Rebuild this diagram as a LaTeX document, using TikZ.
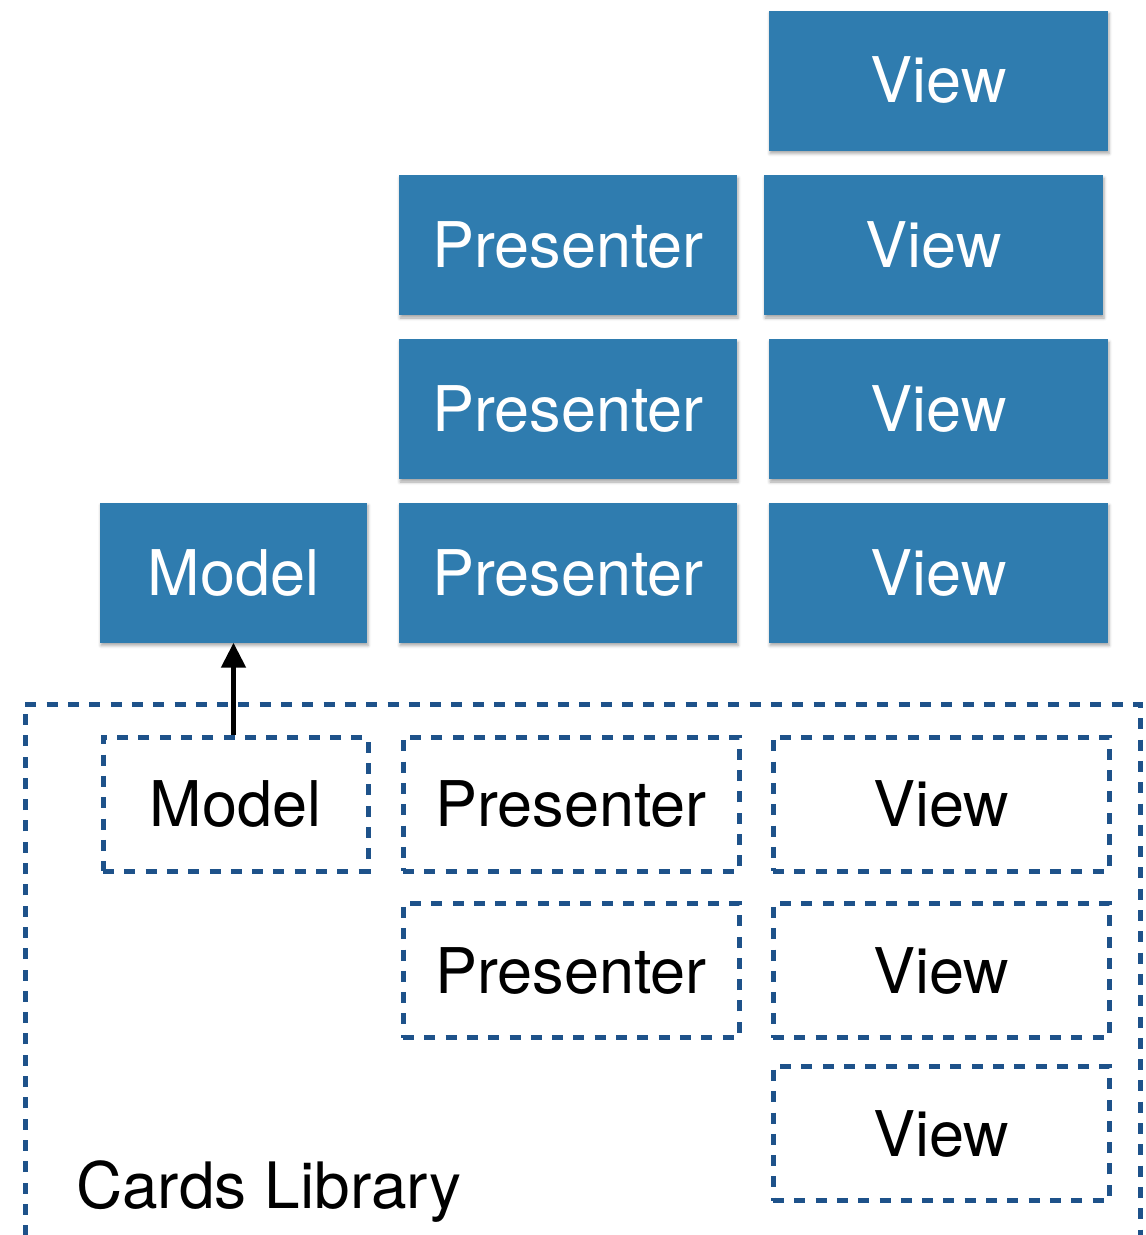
\documentclass[tikz,border=0pt]{standalone}
\usepackage{fontspec}
\setmainfont{TeX Gyre Heros}
\usetikzlibrary{shadows.blur,arrows.meta}
\definecolor{boxblue}{RGB}{47,124,175}
\definecolor{dashblue}{RGB}{30,82,138}
\tikzset{
  solidbox/.style={rectangle, fill=boxblue, text=white, inner sep=0pt,
    minimum width=#1, minimum height=140pt, font=\fontsize{63}{63}\selectfont,
    blur shadow={shadow xshift=1pt, shadow yshift=-3pt, shadow blur radius=3pt, shadow opacity=35}},
  dashline/.style={draw=dashblue, line width=5pt, dash pattern=on 11pt off 10.3pt},
  dashbox/.style={rectangle, dashline, text=black, inner sep=0pt, minimum width=#1,
    minimum height=134pt, font=\fontsize{63}{63}\selectfont},
}
\begin{document}
\begin{tikzpicture}[x=1pt,y=-1pt]
\clip (0,0) rectangle (1146,1235);
% solid boxes
\node[solidbox=339pt] (v1) at (938.5,80.5) {View};
\node[solidbox=338pt] (p2) at (568,245) {Presenter};
\node[solidbox=339pt] (v2) at (933.5,245) {View};
\node[solidbox=338pt] (p3) at (568,409) {Presenter};
\node[solidbox=339pt] (v3) at (938.5,409) {View};
\node[solidbox=267pt] (m4) at (233.5,572.5) {Model};
\node[solidbox=338pt] (p4) at (568,572.5) {Presenter};
\node[solidbox=339pt] (v4) at (938.5,572.5) {View};
% library frame
\draw[dashline] (25,1300) -- (25,704) -- (1140,704) -- (1140,1300);
% dashed boxes
\node[dashbox=265pt] (dm) at (235.5,804) {Model};
\node[dashbox=336pt] (dp1) at (571,804) {Presenter};
\node[dashbox=336pt] (dv1) at (941,804) {View};
\node[dashbox=336pt] (dp2) at (571,970.5) {Presenter};
\node[dashbox=336pt] (dv2) at (941,970.5) {View};
\node[dashbox=336pt] (dv3) at (941,1133.5) {View};
\node[anchor=base west, inner sep=0pt, font=\fontsize{64}{64}\selectfont] (lib) at (76,1208) {Cards Library};
% arrow
\draw[line width=5pt, -{Triangle[width=24pt,length=25pt]}] (dm.north -| m4.south) -- (m4.south);
\end{tikzpicture}
\end{document}
